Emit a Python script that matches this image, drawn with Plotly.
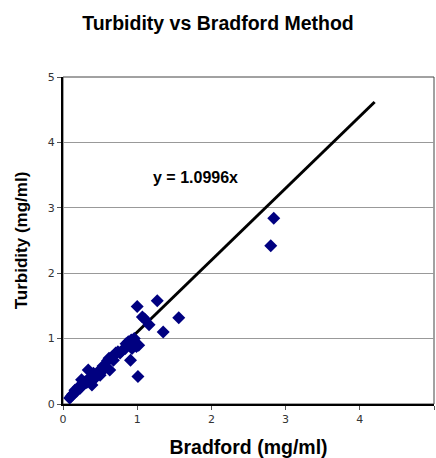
import plotly.graph_objects as go

bradford = [0.09, 0.11, 0.13, 0.16, 0.18, 0.21, 0.23, 0.25, 0.27, 0.30, 0.32, 0.34,
            0.36, 0.39, 0.41, 0.43, 0.45, 0.48, 0.52, 0.54, 0.57, 0.60, 0.62, 0.63,
            0.66, 0.68, 0.71, 0.74, 0.77, 0.80, 0.84, 0.88, 0.91, 0.92, 0.93, 0.96,
            0.99, 1.01, 1.02, 1.00, 1.07, 1.10, 1.16, 1.27, 1.35, 1.56, 2.80, 2.84,
            0.40, 0.50, 0.85]
turbidity = [0.09, 0.12, 0.15, 0.21, 0.19, 0.26, 0.24, 0.37, 0.30, 0.34, 0.33, 0.52,
             0.40, 0.29, 0.47, 0.44, 0.42, 0.50, 0.51, 0.58, 0.55, 0.66, 0.70, 0.52,
             0.72, 0.67, 0.78, 0.80, 0.78, 0.82, 0.85, 0.95, 0.67, 0.98, 0.85, 1.00,
             0.88, 0.42, 0.90, 1.49, 1.33, 1.30, 1.21, 1.58, 1.10, 1.32, 2.42, 2.84,
             0.36, 0.44, 0.92]

slope = 1.0996
line_x = [0.07, 4.2]
line_y = [slope * v for v in line_x]

fig = go.Figure()
fig.add_trace(go.Scatter(x=line_x, y=line_y, mode="lines",
                         line=dict(color="black", width=3), showlegend=False,
                         hoverinfo="skip"))
fig.add_trace(go.Scatter(x=bradford, y=turbidity, mode="markers",
                         marker=dict(symbol="diamond", size=10, color="#000080"),
                         showlegend=False))

W, H = 436, 458
tickfont = dict(family="DejaVu Sans", size=11, color="#333333")
fig.update_layout(
    width=W, height=H,
    margin=dict(l=63, r=2, t=77, b=54),
    paper_bgcolor="white", plot_bgcolor="white",
    title=dict(text="<b>Turbidity vs Bradford Method</b>", x=218 / W,
               xanchor="center", y=1 - 23 / H, yanchor="middle",
               font=dict(family="Liberation Sans", size=19.5, color="black")),
    xaxis=dict(range=[0, 5], tickvals=[0, 1, 2, 3, 4, 5], showgrid=False,
               zeroline=False, showline=True, linecolor="black", linewidth=2,
               ticks="outside", ticklen=4, tickcolor="#555555", tickfont=tickfont,
               automargin=False,
               title=dict(text="<b>Bradford (mg/ml)</b>", standoff=16,
                          font=dict(family="Liberation Sans", size=19.5, color="black"))),
    yaxis=dict(range=[0, 5], tickvals=[0, 1, 2, 3, 4, 5], showgrid=True,
               gridcolor="#999999", gridwidth=1, zeroline=False, showline=True,
               linecolor="black", linewidth=2, ticks="outside", ticklen=4,
               tickcolor="#555555", tickfont=tickfont, automargin=False,
               title=dict(text="<b>Turbidity (mg/ml)</b>", standoff=16,
                          font=dict(family="Liberation Sans", size=17, color="black"))),
    shapes=[dict(type="rect", xref="paper", yref="paper", x0=0, y0=0, x1=1, y1=1,
                 line=dict(color="#444444", width=1), layer="below")],
    annotations=[dict(text="<b>y = 1.0996x</b>", x=1.78, y=3.46, xref="x", yref="y",
                      showarrow=False,
                      font=dict(family="Liberation Sans", size=16, color="black"))],
)

fig.write_html(
    "out.html",
    config={"responsive": False, "displayModeBar": False},
    post_script="document.body.style.margin='0';document.body.style.overflow='hidden';",
)
